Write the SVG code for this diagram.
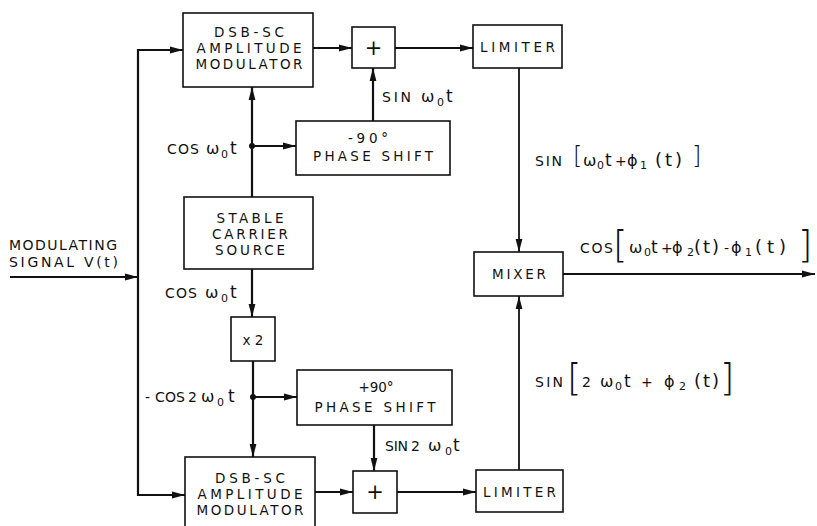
<svg xmlns="http://www.w3.org/2000/svg" width="817" height="526" viewBox="0 0 817 526">
<defs>
<style>
.box{fill:#fff;stroke:#111;stroke-width:1.6}
.ln{fill:none;stroke:#111;stroke-width:2.2}
.ln2{fill:none;stroke:#111;stroke-width:1.8}
text{font-family:"DejaVu Sans","Liberation Sans",sans-serif;fill:#111}
.nt{font-size:13.5px;text-anchor:middle}
.lb{font-size:14px}
.gr{font-size:16px}
.sb{font-size:11px}
.tt{font-size:17px}
.pt{font-size:18px}
.pl{font-size:21px;text-anchor:middle}
.br1{font-size:24px;font-weight:200}
.br2{font-size:37px;font-weight:200}
</style>
<marker id="ah" markerWidth="14" markerHeight="8" refX="13" refY="4" orient="auto" markerUnits="userSpaceOnUse">
<path d="M0,0.6 L13,4 L0,7.4 z" fill="#111"/>
</marker>
</defs>
<rect width="817" height="526" fill="#fff"/>

<g id="connectors">
<path class="ln" d="M10,277 H138" marker-end="url(#ah)"/>
<path class="ln" d="M138,277 V50 H183" marker-end="url(#ah)"/>
<path class="ln" d="M138,277 V495 H185" marker-end="url(#ah)"/>
<path class="ln" d="M313,48 H352" marker-end="url(#ah)"/>
<path class="ln" d="M395,48 H473" marker-end="url(#ah)"/>
<path class="ln2" d="M519,68 V252" marker-end="url(#ah)"/>
<path class="ln" d="M252,197 V87" marker-end="url(#ah)"/>
<path class="ln" d="M252,146 H296" marker-end="url(#ah)"/>
<path class="ln" d="M373,121 V68" marker-end="url(#ah)"/>
<path class="ln" d="M252,269 V317" marker-end="url(#ah)"/>
<path class="ln" d="M253,361 V457" marker-end="url(#ah)"/>
<path class="ln" d="M253,397 H297" marker-end="url(#ah)"/>
<path class="ln" d="M374,425 V471" marker-end="url(#ah)"/>
<path class="ln" d="M315,492 H353" marker-end="url(#ah)"/>
<path class="ln" d="M397,492 H476" marker-end="url(#ah)"/>
<path class="ln2" d="M519,470 V296" marker-end="url(#ah)"/>
<path class="ln" d="M563,274 H815" marker-end="url(#ah)"/>
<circle cx="252" cy="146" r="3" fill="#111"/>
<circle cx="253" cy="397" r="3" fill="#111"/>
</g>

<g id="dsb-top">
<rect class="box" x="183" y="13" width="130" height="74"/>
<text class="nt" x="249" y="37" textLength="70">DSB-SC</text>
<text class="nt" x="249" y="53" textLength="105">AMPLITUDE</text>
<text class="nt" x="249" y="69" textLength="107">MODULATOR</text>
</g>
<g id="sum-top">
<rect class="box" x="352" y="27" width="43" height="41"/>
<text class="pl" x="373.5" y="55">+</text>
</g>
<g id="limiter-top">
<rect class="box" x="473" y="25" width="89" height="43"/>
<text class="nt" x="517.5" y="52" textLength="75">LIMITER</text>
</g>
<g id="shift-minus90">
<rect class="box" x="296" y="121" width="154" height="54"/>
<text class="nt" x="368" y="143" textLength="40">-90°</text>
<text class="nt" x="373" y="161" textLength="120">PHASE SHIFT</text>
</g>
<g id="carrier">
<rect class="box" x="184" y="197" width="129" height="72"/>
<text class="nt" x="250" y="223" textLength="67">STABLE</text>
<text class="nt" x="250" y="239" textLength="76">CARRIER</text>
<text class="nt" x="250" y="255" textLength="70">SOURCE</text>
</g>
<g id="doubler">
<rect class="box" x="231" y="317" width="44" height="44"/>
<text class="nt" x="253" y="345">x 2</text>
</g>
<g id="shift-plus90">
<rect class="box" x="297" y="370" width="155" height="55"/>
<text class="nt" x="376" y="392">+90°</text>
<text class="nt" x="375" y="412" textLength="121">PHASE SHIFT</text>
</g>
<g id="dsb-bottom">
<rect class="box" x="185" y="457" width="130" height="75"/>
<text class="nt" x="250" y="483" textLength="70">DSB-SC</text>
<text class="nt" x="250" y="499" textLength="105">AMPLITUDE</text>
<text class="nt" x="250" y="515" textLength="107">MODULATOR</text>
</g>
<g id="sum-bottom">
<rect class="box" x="353" y="471" width="44" height="42"/>
<text class="pl" x="375" y="499">+</text>
</g>
<g id="limiter-bottom">
<rect class="box" x="476" y="470" width="87" height="42"/>
<text class="nt" x="519.5" y="497" textLength="73">LIMITER</text>
</g>
<g id="mixer">
<rect class="box" x="474" y="252" width="89" height="44"/>
<text class="nt" x="519" y="279" textLength="54">MIXER</text>
</g>

<g id="labels">
<text class="lb" x="9" y="250" textLength="108">MODULATING</text>
<text class="lb" x="9" y="267" textLength="109">SIGNAL V(t)</text>

<text class="lb" y="154"><tspan x="167" textLength="32">COS</tspan><tspan class="gr" x="206">ω</tspan><tspan class="sb" x="221" y="158">0</tspan><tspan class="tt" x="230" y="154">t</tspan></text>
<text class="lb" y="102"><tspan x="382" textLength="29">SIN</tspan><tspan class="gr" x="421">ω</tspan><tspan class="sb" x="437" y="106">0</tspan><tspan class="tt" x="446" y="102">t</tspan></text>
<text class="lb" y="298"><tspan x="165" textLength="32">COS</tspan><tspan class="gr" x="205">ω</tspan><tspan class="sb" x="221" y="302">0</tspan><tspan class="tt" x="230" y="298">t</tspan></text>
<text class="lb" y="402"><tspan x="145">-</tspan><tspan x="155" textLength="30">COS</tspan><tspan x="188">2</tspan><tspan class="gr" x="201">ω</tspan><tspan class="sb" x="217" y="406">0</tspan><tspan class="tt" x="228" y="402">t</tspan></text>
<text class="lb" y="451"><tspan x="385" textLength="23">SIN</tspan><tspan x="411">2</tspan><tspan class="gr" x="428">ω</tspan><tspan class="sb" x="445" y="455">0</tspan><tspan class="tt" x="453" y="451">t</tspan></text>

<text class="lb" y="166"><tspan x="535" textLength="27">SIN</tspan><tspan class="br1" x="573" y="164">[</tspan><tspan class="gr" x="583" y="166">ω</tspan><tspan class="sb" x="597" y="169">0</tspan><tspan class="tt" x="605" y="166">t</tspan><tspan x="615">+</tspan><tspan class="gr" x="627">ϕ</tspan><tspan class="sb" x="640" y="169">1</tspan><tspan class="pt" x="655" y="166" letter-spacing="3">(t)</tspan><tspan class="br1" x="692" y="164">]</tspan></text>

<text class="lb" y="253"><tspan x="580" textLength="33">COS</tspan><tspan class="br2" x="613" y="258">[</tspan><tspan class="gr" x="629" y="253">ω</tspan><tspan class="sb" x="644" y="256">0</tspan><tspan class="tt" x="651" y="253">t</tspan><tspan x="661">+</tspan><tspan class="gr" x="672">ϕ</tspan><tspan class="sb" x="687" y="256">2</tspan><tspan class="pt" x="694" y="253" letter-spacing="2">(t)</tspan><tspan x="724">-</tspan><tspan class="gr" x="731">ϕ</tspan><tspan class="sb" x="745" y="256">1</tspan><tspan class="pt" x="755" y="253" letter-spacing="5">(t)</tspan><tspan class="br2" x="798" y="258">]</tspan></text>

<text class="lb" y="387"><tspan x="535" textLength="28">SIN</tspan><tspan class="br2" x="567" y="391">[</tspan><tspan x="582" y="387">2</tspan><tspan class="gr" x="600">ω</tspan><tspan class="sb" x="615" y="390">0</tspan><tspan class="tt" x="624" y="387">t</tspan><tspan x="641">+</tspan><tspan class="gr" x="664">ϕ</tspan><tspan class="sb" x="679" y="390">2</tspan><tspan class="pt" x="694" y="387" letter-spacing="2">(t)</tspan><tspan class="br2" x="720" y="391">]</tspan></text>
</g>
</svg>
